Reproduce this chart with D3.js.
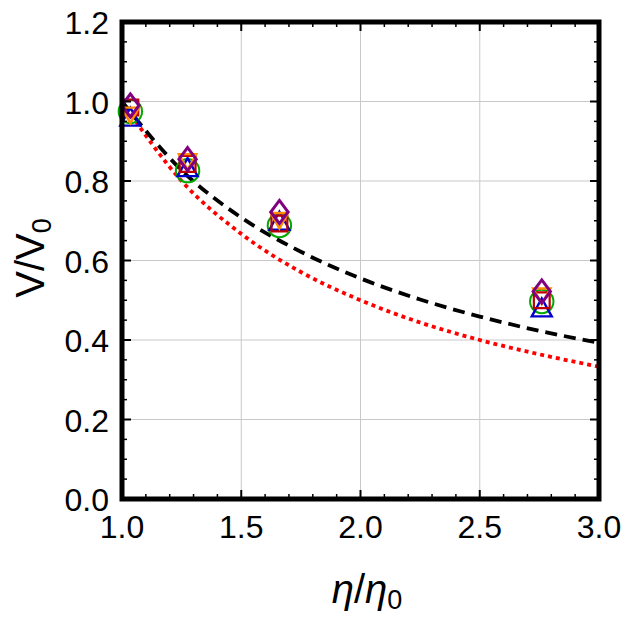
<!DOCTYPE html>
<html><head><meta charset="utf-8">
<script src="https://cdn.jsdelivr.net/npm/d3@7"></script>
<style>body{margin:0;background:#fff}svg{display:block}</style>
</head><body>
<script>
// ---- data ----
const xTicks = [1.0, 1.5, 2.0, 2.5, 3.0];
const xTickLabels = ["1.0", "1.5", "2.0", "2.5", "3.0"];
const yTicks = [0.0, 0.2, 0.4, 0.6, 0.8, 1.0, 1.2];
const yTickLabels = ["0.0", "0.2", "0.4", "0.6", "0.8", "1.0", "1.2"];
const etaRatio = [1.035, 1.275, 1.66, 2.76];
const seriesCircle = [0.975, 0.826, 0.688, 0.497];
const seriesTriUp = [0.962, 0.835, 0.700, 0.482];
const seriesSquare = [0.985, 0.843, 0.693, 0.500];
const seriesTriDown = [0.965, 0.848, 0.700, 0.510];
const seriesDiamond = [0.990, 0.855, 0.722, 0.522];
const curveX = [1.0, 1.25, 1.5, 1.75, 2.0, 2.25, 2.5, 2.75, 3.0];
const curveDashed = [1.0, 0.827, 0.708, 0.622, 0.555, 0.502, 0.459, 0.423, 0.393];
const curveDotted = [1.0, 0.8, 0.667, 0.571, 0.5, 0.444, 0.4, 0.364, 0.333];

// ---- layout ----
const W = 625, H = 617;
const L = 122, R = 599, T = 22, B = 499;
const svg = d3.select("body").append("svg").attr("width", W).attr("height", H);
const x = d3.scaleLinear().domain([1, 3]).range([L, R]);
const y = d3.scaleLinear().domain([0, 1.2]).range([B, T]);

// grid
const g = svg.append("g");
g.selectAll(".gx").data(xTicks.slice(1, -1)).join("line")
  .attr("x1", d => x(d)).attr("x2", d => x(d)).attr("y1", T).attr("y2", B)
  .attr("stroke", "#c8c8c8").attr("stroke-width", 1);
g.selectAll(".gy").data(yTicks.slice(1, -1)).join("line")
  .attr("y1", d => y(d)).attr("y2", d => y(d)).attr("x1", L).attr("x2", R)
  .attr("stroke", "#c8c8c8").attr("stroke-width", 1);

// curves
svg.append("clipPath").attr("id", "clip").append("rect")
  .attr("x", L).attr("y", T).attr("width", R - L).attr("height", B - T);
const line = d3.line().x(d => x(d[0])).y(d => y(d[1])).curve(d3.curveMonotoneX);
const plot = svg.append("g").attr("clip-path", "url(#clip)");
plot.append("path").datum(curveX.map((v, i) => [v, curveDotted[i]]))
  .attr("d", line).attr("fill", "none").attr("stroke", "#ff0000")
  .attr("stroke-width", 3.8).attr("stroke-dasharray", "4,4");
plot.append("path").datum(curveX.map((v, i) => [v, curveDashed[i]]))
  .attr("d", line).attr("fill", "none").attr("stroke", "#000")
  .attr("stroke-width", 3.8).attr("stroke-dasharray", "12,7");

// markers
function drawSeries(vals, type, size, color, sw, fill) {
  svg.append("g").selectAll("path").data(vals).join("path")
    .attr("transform", (d, i) => `translate(${x(etaRatio[i])},${y(d)})`)
    .attr("d", d3.symbol().type(type).size(size))
    .attr("fill", fill || "none").attr("stroke", color).attr("stroke-width", sw);
}
const triUp = { draw(ctx, size) { const s = Math.sqrt(size); const h = s * 0.9;
  ctx.moveTo(-s / 2, h / 2); ctx.lineTo(s / 2, h / 2); ctx.lineTo(0, -h / 2); ctx.closePath(); } };
const triDown = { draw(ctx, size) { const s = Math.sqrt(size); const h = s * 0.9;
  ctx.moveTo(-s / 2, -h / 2); ctx.lineTo(s / 2, -h / 2); ctx.lineTo(0, h / 2); ctx.closePath(); } };
const diamond = { draw(ctx, size) { const a = Math.sqrt(size); ctx.moveTo(0, -a * 0.6); ctx.lineTo(a * 0.45, 0); ctx.lineTo(0, a * 0.6); ctx.lineTo(-a * 0.45, 0); ctx.closePath(); } };
const square = { draw(ctx, size) { const a = Math.sqrt(size) / 2; ctx.rect(-a, -a, 2 * a, 2 * a); } };
drawSeries(seriesCircle, d3.symbolCircle, 430, "#00a800", 2);
drawSeries(seriesTriUp, triUp, 400, "#0000cc", 2.4);
drawSeries(seriesSquare, square, 250, "#c00000", 2.2);
drawSeries(seriesTriDown, triDown, 300, "#ff8c00", 2.4);
drawSeries(seriesDiamond, diamond, 370, "#800080", 3);

// frame & ticks
const ax = svg.append("g").attr("stroke", "#000");
for (let v = 1; v <= 3.0001; v += 0.1) {
  const major = Math.abs(v * 2 - Math.round(v * 2)) < 1e-6;
  const len = major ? 9 : 5;
  ax.append("line").attr("x1", x(v)).attr("x2", x(v)).attr("y1", B).attr("y2", B - len).attr("stroke-width", major ? 2 : 1.5);
  ax.append("line").attr("x1", x(v)).attr("x2", x(v)).attr("y1", T).attr("y2", T + len).attr("stroke-width", major ? 2 : 1.5);
}
for (let v = 0; v <= 1.2001; v += 0.05) {
  const major = Math.abs(v * 5 - Math.round(v * 5)) < 1e-6;
  const len = major ? 9 : 5;
  ax.append("line").attr("y1", y(v)).attr("y2", y(v)).attr("x1", L).attr("x2", L + len).attr("stroke-width", major ? 2 : 1.5);
  ax.append("line").attr("y1", y(v)).attr("y2", y(v)).attr("x1", R).attr("x2", R - len).attr("stroke-width", major ? 2 : 1.5);
}
svg.append("rect").attr("x", L).attr("y", T).attr("width", R - L).attr("height", B - T)
  .attr("fill", "none").attr("stroke", "#000").attr("stroke-width", 5);

// tick labels
const font = "'Liberation Sans', Arial, Helvetica, sans-serif";
svg.append("g").selectAll("text").data(xTicks).join("text")
  .attr("x", d => x(d)).attr("y", B + 39).attr("text-anchor", "middle")
  .attr("font-family", font).attr("font-size", 32).text((d, i) => xTickLabels[i]);
svg.append("g").selectAll("text").data(yTicks).join("text")
  .attr("x", L - 13).attr("y", d => y(d) + 12).attr("text-anchor", "end")
  .attr("font-family", font).attr("font-size", 32).text((d, i) => yTickLabels[i]);

// axis titles
const xt = svg.append("text").attr("x", 367).attr("y", 603).attr("text-anchor", "middle")
  .attr("font-family", font).attr("font-size", 40);
xt.append("tspan").attr("font-style", "italic").text("η");
xt.append("tspan").text("/");
xt.append("tspan").attr("font-style", "italic").text("η");
xt.append("tspan").attr("font-size", 27).attr("dy", 6).text("0");

const yt = svg.append("text").attr("transform", "translate(44,258) rotate(-90)").attr("text-anchor", "middle")
  .attr("font-family", font).attr("font-size", 40);
yt.append("tspan").text("V/V");
yt.append("tspan").attr("font-size", 27).attr("dy", 7).text("0");
</script>
</body></html>
